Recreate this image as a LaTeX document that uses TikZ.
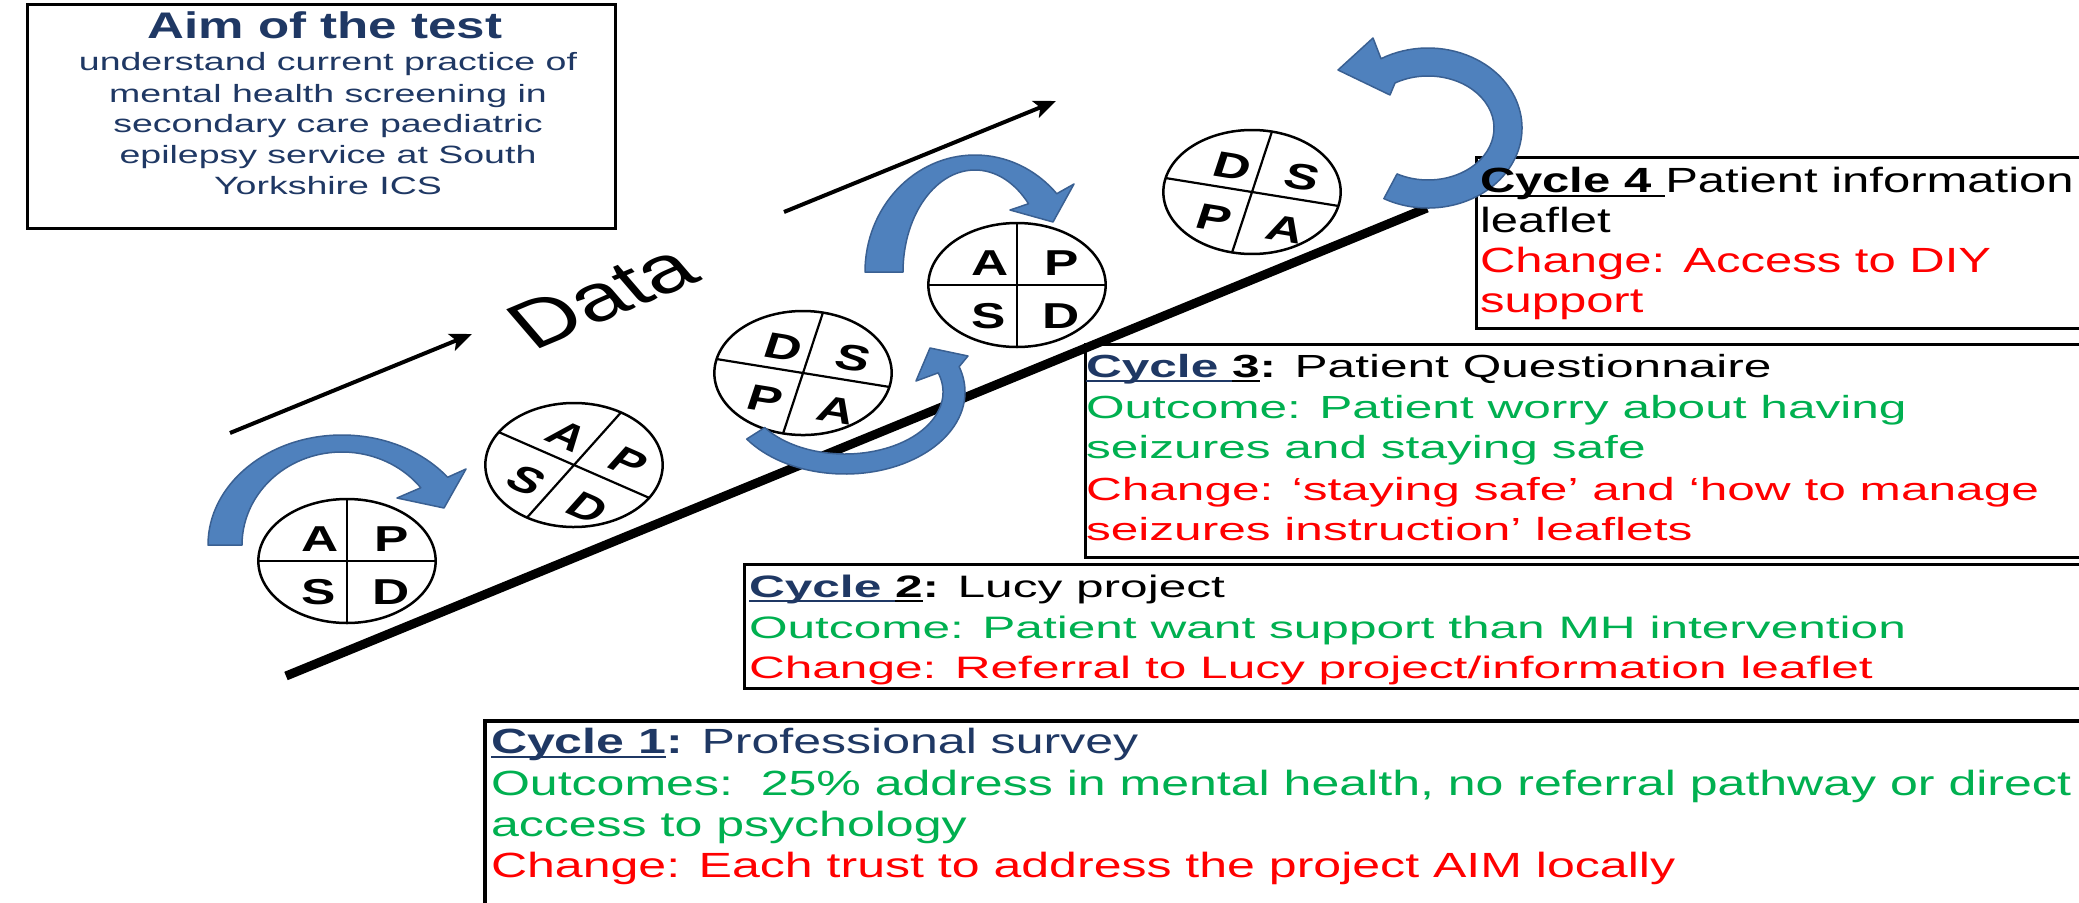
\documentclass[tikz,border=0pt]{standalone}
\usepackage{fontspec}
\setmainfont{Liberation Sans}
\newfontfamily\fAim[FakeStretch=1.5]{Liberation Sans}
\newfontfamily\fTitle[FakeStretch=1.38]{Liberation Sans}
\newfontfamily\fOne[FakeStretch=1.43]{Liberation Sans}
\newfontfamily\fTwo[FakeStretch=1.6]{Liberation Sans}
\newfontfamily\fThree[FakeStretch=1.55]{Liberation Sans}
\newfontfamily\fFour[FakeStretch=1.40]{Liberation Sans}
\usetikzlibrary{arrows.meta}
\definecolor{dkblue}{RGB}{31,56,100}
\definecolor{okgreen}{RGB}{0,176,80}
\definecolor{okred}{RGB}{255,0,0}
\definecolor{arrowfill}{RGB}{79,129,189}
\definecolor{arrowedge}{RGB}{58,96,146}
\newcommand\myul[1]{\setbox0=\hbox{#1}\rlap{\rule[-5pt]{\wd0}{2.5pt}}\box0}
\tikzset{
  ln/.style={anchor=base west, inner sep=0pt, outer sep=0pt},
  aimln/.style={anchor=base, inner sep=0pt, text=dkblue, font=\fAim\fontsize{25}{30}\selectfont},
  one/.style={ln, text=dkblue, font=\fOne\fontsize{35}{41}\selectfont},
  two/.style={ln, font=\fTwo\fontsize{31}{40}\selectfont},
  three/.style={ln, font=\fThree\fontsize{32}{41}\selectfont},
  four/.style={ln, font=\fFour\fontsize{35}{40}\selectfont},
  boxline/.style={line width=3pt},
  pdsa/.style={line width=2.5pt, fill=white},
  letter/.style={inner sep=0pt, font=\bfseries\fontsize{36}{40}\selectfont},
  bluearrow/.style={fill=arrowfill, draw=arrowedge, line width=1.5pt, line join=round},
  thinarrow/.style={line width=4pt, -{Stealth[length=22pt,width=18pt,inset=5pt]}},
}
% #1 name, #2 cx, #3 cy, #4 theta (clockwise), #5 TL, #6 TR, #7 BL, #8 BR
\newcommand\pdsacircle[8]{%
  \begin{scope}[shift={(#2,#3)}, xscale=1.43, rotate=#4]
    \draw[pdsa] (0,0) circle[radius=62];
    \draw[line width=2.2pt] (-62,0) -- (62,0) (0,-62) -- (0,62);
    \node[letter, xscale=1.43, rotate=-#4] (#1tl) at (-19,-22) {#5};
    \node[letter, xscale=1.43, rotate=-#4] (#1tr) at (31,-22) {#6};
    \node[letter, xscale=1.43, rotate=-#4] (#1bl) at (-20,31) {#7};
    \node[letter, xscale=1.43, rotate=-#4] (#1br) at (31,31) {#8};
  \end{scope}}
\begin{document}
\begin{tikzpicture}[x=1pt, y=1pt, yscale=-1]
\useasboundingbox (0,0) rectangle (2079,902);
\clip (0,0) rectangle (2079,902);
\fill[white] (0,0) rectangle (2079,902);

% Aim box
\draw[boxline] (27,4) rectangle (615,228);
\node[anchor=base, inner sep=0pt, text=dkblue, font=\fTitle\bfseries\fontsize{37}{40}\selectfont] (aimtitle) at (325,38) {Aim of the test};
\node[aimln] (aim1) at (328,70) {understand current practice of};
\node[aimln] (aim2) at (328,102) {mental health screening in};
\node[aimln] (aim3) at (328,132) {secondary care paediatric};
\node[aimln] (aim4) at (328,163) {epilepsy service at South};
\node[aimln] (aim5) at (328,194) {Yorkshire ICS};

% cycle boxes
\draw[boxline] (2100,157) -- (1476,157) -- (1476,328) -- (2100,328);
\draw[boxline] (2100,344) -- (1085,344) -- (1085,557) -- (2100,557);
\draw[boxline] (2100,564) -- (744,564) -- (744,688) -- (2100,688);
\draw[line width=4pt] (2100,721) -- (485,721) -- (485,920);

% thin data arrows
\coordinate (d1s) at (230,433);
\coordinate (d1e) at (472,334);
\coordinate (d2s) at (784,212);
\coordinate (d2e) at (1056,101);
\draw[thinarrow] (d1s) -- (d1e);
\draw[thinarrow] (d2s) -- (d2e);

% main line
\coordinate (m1) at (286,676);
\coordinate (m2) at (1427,208);
\draw[line width=9pt] (m1) -- (m2);

% PDSA circles
\pdsacircle{ca}{347}{561}{0}{A}{P}{S}{D}
\pdsacircle{cb}{574}{465}{32}{A}{P}{S}{D}
\pdsacircle{cc}{803}{373}{13}{D}{S}{P}{A}
\pdsacircle{cd}{1017}{285}{0}{A}{P}{S}{D}
\pdsacircle{ce}{1252}{192}{13}{D}{S}{P}{A}

% blue curved arrows
\begin{scope}[shift={(342,545)}]
\draw[bluearrow] (180:134 and 110) arc[start angle=180, end angle=322, x radius=134, y radius=110]
  -- (124,-76) -- (102,-37) -- (55,-47) -- (322:100 and 93)
  arc[start angle=322, end angle=180, x radius=100, y radius=93] -- cycle;
\end{scope}
\begin{scope}[shift={(845,392)}]
\draw[bluearrow] (145:120 and 82) arc[start angle=145, end angle=-18, x radius=120, y radius=82]
  -- (123,-36) -- (85,-44) -- (71,-11) -- (-18:98 and 62)
  arc[start angle=-18, end angle=145, x radius=98, y radius=62] -- cycle;
\end{scope}
\begin{scope}[shift={(975,272)}]
\draw[bluearrow] (180:110 and 117) arc[start angle=180, end angle=318, x radius=110, y radius=117]
  -- (99,-88) -- (78,-50) -- (35,-62) -- (318:72 and 102)
  arc[start angle=318, end angle=180, x radius=72, y radius=102] -- cycle;
\end{scope}
\begin{scope}[shift={(1428,128)}]
\draw[bluearrow] (118:94 and 80) arc[start angle=118, end angle=-120, x radius=94, y radius=80]
  -- (-55,-90) -- (-90,-58) -- (-38,-33) -- (-120:66 and 52)
  arc[start angle=-120, end angle=118, x radius=66, y radius=52] -- cycle;
\end{scope}

% Data label
\node[inner sep=0pt, font=\fontsize{66}{70}\selectfont, xscale=1.43, rotate=31] (data) at (602,296) {Data};

% Cycle 4
\node[four] (c4a) at (1480,192) {\myul{\bfseries Cycle 4 }Patient information};
\node[four] (c4b) at (1480,232) {leaflet};
\node[four, text=okred] (c4c) at (1480,272) {Change: Access to DIY};
\node[four, text=okred] (c4d) at (1480,312) {support};

% Cycle 3
\node[three] (c3a) at (1086,377) {{\color{dkblue}\myul{\bfseries Cycle }}\myul{\bfseries 3}\textbf{:} Patient Questionnaire};
\node[three, text=okgreen] (c3b) at (1086,418) {Outcome: Patient worry about having};
\node[three, text=okgreen] (c3c) at (1086,458) {seizures and staying safe};
\node[three, text=okred] (c3d) at (1086,500) {Change: ‘staying safe’ and ‘how to manage};
\node[three, text=okred] (c3e) at (1086,540) {seizures instruction’ leaflets};

% Cycle 2
\node[two] (c2a) at (749,597) {{\color{dkblue}\myul{\bfseries Cycle }}\myul{\bfseries 2}\textbf{:} Lucy project};
\node[two, text=okgreen] (c2b) at (749,638) {Outcome: Patient want support than MH intervention};
\node[two, text=okred] (c2c) at (749,678) {Change: Referral to Lucy project/information leaflet};

% Cycle 1
\node[one] (c1a) at (491,753) {\myul{\bfseries Cycle 1}\textbf{:} Professional survey};
\node[one, text=okgreen] (c1b) at (491,795) {Outcomes:\ \ 25\% address in mental health, no referral pathway or direct};
\node[one, text=okgreen] (c1c) at (491,836) {access to psychology};
\node[one, text=okred] (c1d) at (491,877) {Change: Each trust to address the project AIM locally};
\end{tikzpicture}
\end{document}
